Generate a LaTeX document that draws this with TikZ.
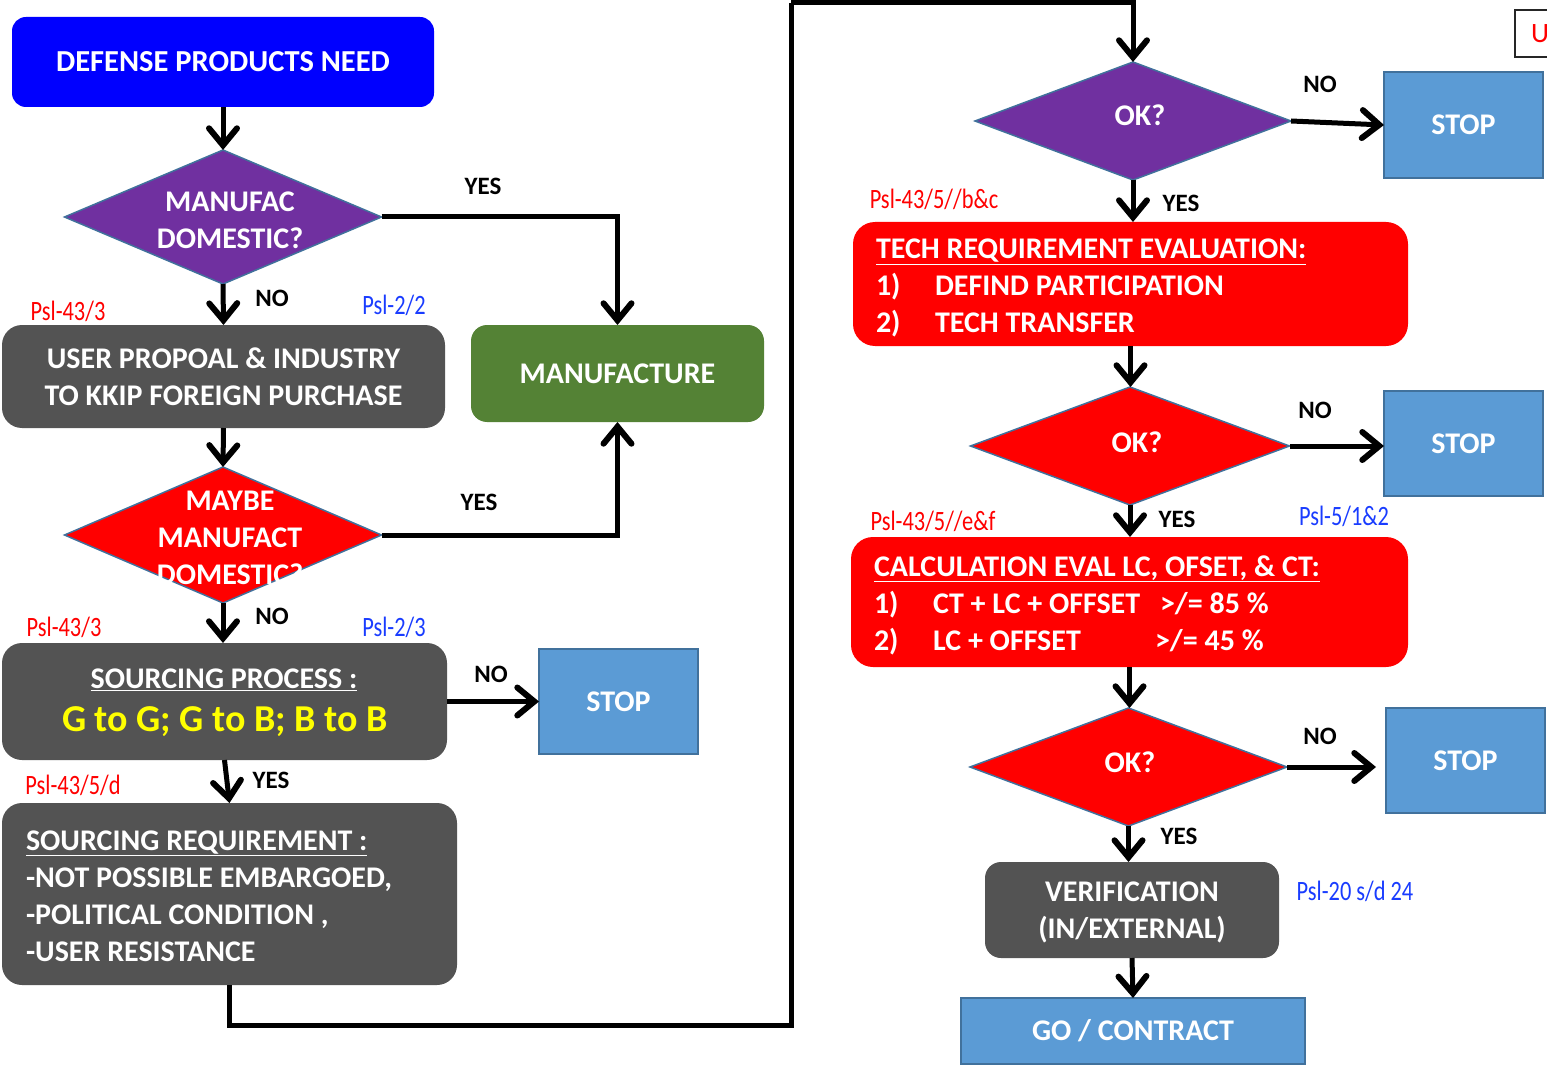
\documentclass[tikz,border=0pt]{standalone}
\usepackage{fontspec}
\setmainfont{Carlito}
\usepackage{graphicx}
\usetikzlibrary{arrows.meta,shapes.geometric}

\definecolor{needblue}{RGB}{0,0,255}
\definecolor{purp}{RGB}{112,48,160}
\definecolor{dgray}{RGB}{83,83,83}
\definecolor{mgreen}{RGB}{84,130,53}
\definecolor{sblue}{RGB}{91,155,213}
\definecolor{sedge}{RGB}{65,113,156}
\definecolor{pslblue}{RGB}{25,60,255}
\definecolor{hired}{RGB}{255,0,0}
\definecolor{hiyellow}{RGB}{255,255,0}

\newcommand\pslfmt[1]{\scalebox{0.8}[1]{#1}}

\begin{document}
\begin{tikzpicture}[x=1pt,y=-1pt,
  sz/.style 2 args={minimum width=#1pt,minimum height=#2pt},
  shapebase/.style={inner sep=0pt,outer sep=0pt},
  txt/.style={inner sep=0pt,text=white,font=\bfseries\fontsize{30}{37}\selectfont,align=center},
  lefttxt/.style={txt,align=left,text width=#1pt},
  blk/.style={shapebase,rounded corners=20pt,fill=dgray},
  redbox/.style={shapebase,rounded corners=22pt,fill=hired},
  dia/.style={diamond,shapebase,draw=sedge,line width=1.5pt},
  stopbox/.style={shapebase,fill=sblue,draw=sedge,line width=2pt},
  conn/.style={line width=5pt,-{Straight Barb[length=17pt,width=28pt,line width=6pt,line cap=round,line join=miter]}},
  wire/.style={line width=5pt},
  yn/.style={inner sep=0pt,font=\bfseries\fontsize{25}{30}\selectfont},
  pslr/.style={inner sep=0pt,text=hired,font=\fontsize{28}{32}\selectfont},
  pslb/.style={pslr,text=pslblue}
]
\useasboundingbox (0,0) rectangle (1547,1067);
\clip (0,0) rectangle (1547,1067);

% ---------- left column ----------
\node[shapebase,rounded corners=14pt,fill=needblue,sz={422}{90},txt,font=\bfseries\fontsize{30.5}{37}\selectfont] (need) at (223,62) {DEFENSE PRODUCTS NEED};
\node[dia,fill=purp,sz={317}{134}] (d1) at (223,217) {};
\node[txt] (d1t) at (230,220) {MANUFAC\\DOMESTIC?};
\node[blk,sz={443}{103},txt] (upf) at (223.5,376.5) {USER PROPOAL \& INDUSTRY\\TO KKIP FOREIGN PURCHASE};
\node[shapebase,rounded corners=16pt,fill=mgreen,sz={293}{97},txt] (mf) at (617.5,373.5) {MANUFACTURE};
\node[dia,fill=hired,sz={317}{136}] (d2) at (223,535) {};
\node[txt] (d2t) at (230,538) {MAYBE\\MANUFACT\\DOMESTIC?};
\node[blk,sz={445}{117}] (sp) at (224.5,701.5) {};
\node[txt] (spt) at (224,680) {\underline{SOURCING PROCESS :}};
\node[txt,text=hiyellow,font=\bfseries\fontsize{38}{44}\selectfont] (spm) at (225,722) {G to G; G to B; B to B};
\node[stopbox,sz={159}{105},txt] (stop1) at (618.5,701.5) {STOP};
\node[blk,sz={455}{182}] (req) at (229.5,894) {};
\node[lefttxt=407] (reqt) at (229.5,896)
  {\spaceskip=0pt\relax\underline{SOURCING REQUIREMENT :}\\-NOT POSSIBLE EMBARGOED,\\-POLITICAL CONDITION ,\\-USER RESISTANCE};

% ---------- right column ----------
\node[dia,fill=purp,sz={316}{118}] (ok1) at (1133,121) {};
\node[txt] (ok1t) at (1140,115) {OK?};
\node[stopbox,sz={159}{106},txt] (stop2) at (1463.5,125) {STOP};
\node[redbox,sz={555}{124}] (tech) at (1130.5,284) {};
\node[lefttxt=509] (techt) at (1130.5,288)
  {\spaceskip=0pt\relax\underline{TECH REQUIREMENT EVALUATION:}\\\makebox[59pt][l]{1)}DEFIND PARTICIPATION\\\makebox[59pt][l]{2)}TECH TRANSFER};
\node[dia,fill=hired,sz={319}{118}] (ok2) at (1130,446) {};
\node[txt] (ok2t) at (1137,442) {OK?};
\node[stopbox,sz={159}{105},txt] (stop3) at (1463.5,443.5) {STOP};
\node[redbox,sz={557}{130}] (calc) at (1129.5,602) {};
\node[lefttxt=511] (calct) at (1129.5,605)
  {\spaceskip=0pt\relax\underline{CALCULATION EVAL LC, OFSET, \& CT:}\\\makebox[59pt][l]{1)}\makebox[227pt][l]{CT + LC + OFFSET}>/= 85 \%\\\makebox[59pt][l]{2)}\makebox[222pt][l]{LC + OFFSET}>/= 45 \%};
\node[dia,fill=hired,sz={317}{118}] (ok3) at (1128.5,767) {};
\node[txt] (ok3t) at (1130,762) {OK?};
\node[stopbox,sz={159}{105},txt] (stop4) at (1465.5,760.5) {STOP};
\coordinate (ok3no) at (1376,767);
\node[blk,rounded corners=16pt,sz={294}{96}] (ver) at (1132,910) {};
\node[txt] (vert) at (1132,912) {VERIFICATION\\(IN/EXTERNAL)};
\node[stopbox,sz={344}{66},txt] (go) at (1133,1031) {GO / CONTRACT};

% partial frame at the right edge
\node[shapebase,draw=black!85,line width=2pt,sz={40}{47}] (ubox) at (1535,33.5) {};
\node[inner sep=0pt,text=hired,font=\fontsize{28}{32}\selectfont] (ut) at (1540,34) {U};

% ---------- connectors ----------
\draw[conn] (need.south) -- (d1.north);
\draw[conn] (d1.south) -- (upf.south |- upf.north);
\draw[conn] (d1.east) -| (mf.north);
\draw[conn] (upf.south) -- (d2.north);
\draw[conn] (d2.east) -| (mf.south);
\draw[conn] (d2.south) -- (d2.south |- sp.north);
\draw[conn] (sp.east) -- (stop1.west);
\draw[conn] (sp.south) -- (req.north);
\coordinate (lowturn) at (791,1025);
\coordinate (topturn) at (791,3);
\draw[wire] (req.south) |- (lowturn) -- (topturn);
\draw[conn] (topturn) -| (ok1.north);
\draw[conn] (ok1.east) -- (stop2.west);
\draw[conn] (ok1.south) -- (ok1.south |- tech.north);
\draw[conn] (tech.south) -- (tech.south |- ok2.north);
\draw[conn] (ok2.east) -- (ok2.east -| stop3.west);
\draw[conn] (ok2.south) -- (ok2.south |- calc.north);
\draw[conn] (calc.south) -- (calc.south |- ok3.north);
\draw[conn] (ok3.east) -- (ok3no);
\draw[conn] (ok3.south) -- (ok3.south |- ver.north);
\draw[conn] (ver.south) -- (go.north);

% ---------- branch labels ----------
\node[yn] (y1) at (483,186) {YES};
\node[yn] (n1) at (272,298) {NO};
\node[yn] (y2) at (479,502) {YES};
\node[yn] (n2) at (272,616) {NO};
\node[yn] (n3) at (491,674) {NO};
\node[yn] (y3) at (271,780) {YES};
\node[yn] (n4) at (1320,84) {NO};
\node[yn] (y4) at (1181,203) {YES};
\node[yn] (n5) at (1315,410) {NO};
\node[yn] (y5) at (1177,519) {YES};
\node[yn] (n6) at (1320,736) {NO};
\node[yn] (y6) at (1179,836) {YES};

% ---------- regulation references ----------
\node[pslr] (r1) at (68,311) {\pslfmt{Psl-43/3}};
\node[pslb] (b1) at (394,305) {\pslfmt{Psl-2/2}};
\node[pslr] (r2) at (64,627) {\pslfmt{Psl-43/3}};
\node[pslb] (b2) at (394,627) {\pslfmt{Psl-2/3}};
\node[pslr] (r3) at (73,785) {\pslfmt{Psl-43/5/d}};
\node[pslr] (r4) at (934,199) {\pslfmt{Psl-43/5//b\&c}};
\node[pslr] (r5) at (933,521) {\pslfmt{Psl-43/5//e\&f}};
\node[pslb] (b3) at (1344,516) {\pslfmt{Psl-5/1\&2}};
\node[pslb] (b4) at (1355,891) {\pslfmt{Psl-20 s/d 24}};
\end{tikzpicture}
\end{document}
